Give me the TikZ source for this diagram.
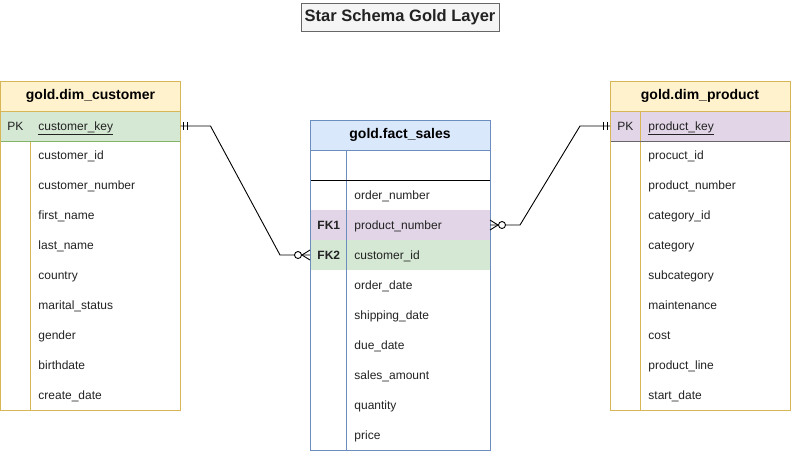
\documentclass[tikz,border=0pt]{standalone}
\usepackage{fontspec}
\setmainfont{Liberation Sans}
\usetikzlibrary{positioning}

\definecolor{yellowfill}{HTML}{FFF2CC}
\definecolor{yellowline}{HTML}{D6B656}
\definecolor{greenfill}{HTML}{D5E8D4}
\definecolor{greenline}{HTML}{82B366}
\definecolor{purplefill}{HTML}{E1D5E7}
\definecolor{bluefill}{HTML}{DAE8FC}
\definecolor{blueline}{HTML}{6C8EBF}
\definecolor{titlefill}{HTML}{F5F5F5}
\definecolor{titleline}{HTML}{666666}
\definecolor{textgray}{HTML}{222222}

\tikzset{
  field/.style={anchor=west, inner sep=0pt, text=textgray, text height=10pt, text depth=2pt,
    font=\fontsize{12}{14}\selectfont},
  keylabel/.style={field, font=\fontsize{12}{14}\selectfont\bfseries},
  header/.style={inner sep=0pt, text=black, font=\fontsize{14}{16}\selectfont\bfseries},
  row/.style={minimum width=180pt, minimum height=30pt, inner sep=0pt, outer sep=0pt},
}

\begin{document}
\begin{tikzpicture}[x=1pt, y=-1pt, line width=0.9pt]
\useasboundingbox (0,0) rectangle (791,451);

\node[draw=titleline, fill=titlefill, text=textgray, minimum width=198pt, minimum height=28pt,
  inner sep=0pt, font=\fontsize{16.5}{19}\selectfont\bfseries] (title) at (400,17) {Star Schema Gold Layer};

% customer dimension
\fill[yellowfill] (0.5,81) rectangle (180.5,111);
\node[row, fill=greenfill] (custpk) at (90.5,126) {};
\draw[yellowline] (30.5,141) -- (30.5,410);
\draw[yellowline] (0.5,111) -- (180.5,111);
\draw[greenline] (0.5,141) -- (180.5,141);
\draw[yellowline] (0.5,81) rectangle (180.5,410);

\node[header] (custhead) at (90.5,96) {gold.dim\_customer};
\node[field] (custpklbl) at (7,126) {PK};
\node[field] (custkey) at (38,126) {\underline{customer\_key}};
\foreach \col [count=\i from 0] in {customer\_id, customer\_number, first\_name, last\_name,
    country, marital\_status, gender, birthdate, create\_date}
  \node[field] (cust\i) at (38,{155+30*\i}) {\col};

% fact table
\fill[bluefill] (310,120) rectangle (490,150);
\node[row, fill=purplefill] (fk1) at (400,225) {};
\node[row, fill=greenfill] (fk2) at (400,255) {};
\draw[blueline] (346,150) -- (346,450);
\draw[blueline] (310,150) -- (490,150);
\draw (310,180) -- (490,180);
\draw[blueline] (310,120) rectangle (490,450);

\node[header] (facthead) at (400,135) {gold.fact\_sales};
\node[keylabel] (fk1lbl) at (317,225) {FK1};
\node[keylabel] (fk2lbl) at (317,255) {FK2};
\foreach \col [count=\i from 0] in {order\_number, product\_number, customer\_id, order\_date,
    shipping\_date, due\_date, sales\_amount, quantity, price}
  \node[field] (fact\i) at (354,{195+30*\i}) {\col};

% product dimension
\fill[yellowfill] (610,81) rectangle (790,111);
\node[row, fill=purplefill] (prodpk) at (700,126) {};
\draw[yellowline] (640,111) -- (640,410);
\draw[yellowline] (610,111) -- (790,111);
\draw[titleline] (610,141) -- (790,141);
\draw[yellowline] (610,81) rectangle (790,410);

\node[header] (prodhead) at (700,96) {gold.dim\_product};
\node[field] (prodpklbl) at (617,126) {PK};
\node[field] (prodkey) at (648,126) {\underline{product\_key}};
\foreach \col [count=\i from 0] in {procuct\_id, product\_number, category\_id, category,
    subcategory, maintenance, cost, product\_line, start\_date}
  \node[field] (prod\i) at (648,{155+30*\i}) {\col};

% relations
\draw (custpk.east) -- ++(30,0) -- ([xshift=-30pt]fk2.west) -- (fk2.west);
\draw (custpk.east) ++(3,-4) -- ++(0,8);
\draw (custpk.east) ++(7,-4) -- ++(0,8);
\draw ([xshift=-8pt]fk2.west) -- ++(8,-5) ++(0,10) -- ++(-8,-5);
\draw[fill=white] ([xshift=-12pt]fk2.west) circle (3.5pt);

\draw (prodpk.west) -- ++(-30,0) -- ([xshift=30pt]fk1.east) -- (fk1.east);
\draw (prodpk.west) ++(-3,-4) -- ++(0,8);
\draw (prodpk.west) ++(-7,-4) -- ++(0,8);
\draw ([xshift=8pt]fk1.east) -- ++(-8,-5) ++(0,10) -- ++(8,-5);
\draw[fill=white] ([xshift=12pt]fk1.east) circle (3.5pt);
\end{tikzpicture}
\end{document}
